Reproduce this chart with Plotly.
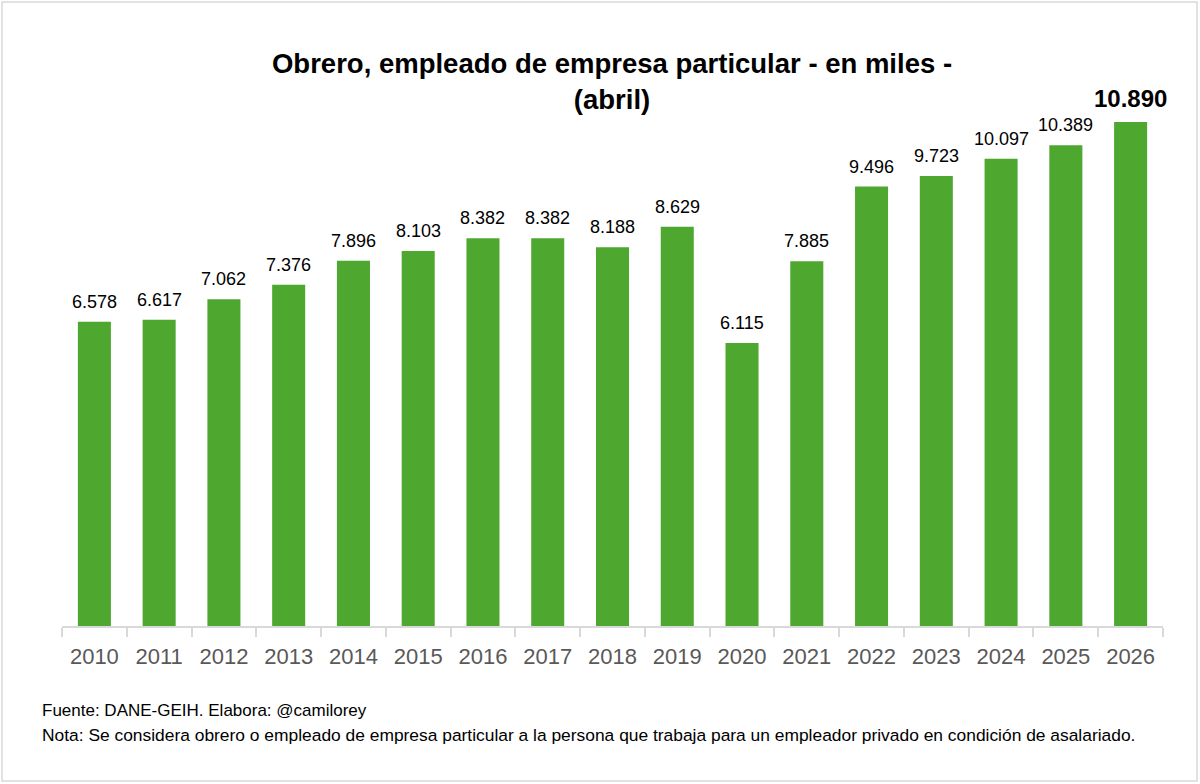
"""Obrero, empleado de empresa particular (abril), bar chart."""
import plotly.graph_objects as go

YEARS = [str(y) for y in range(2010, 2027)]
VALUES = [6578, 6617, 7062, 7376, 7896, 8103, 8382, 8382, 8188, 8629,
          6115, 7885, 9496, 9723, 10097, 10389, 10890]
TITLE = "Obrero, empleado de empresa particular - en miles -<br>(abril)"
SOURCE = "Fuente: DANE-GEIH. Elabora: @camilorey"
NOTE = ("Nota: Se considera obrero o empleado de empresa particular a la persona que "
        "trabaja para un empleador privado en condición de asalariado.")

GREEN = "#4EA72E"
FONT = "Liberation Sans, Arial, sans-serif"
PLOT_W, PLOT_H = 1101, 546   # plot area in px, used to place paper-relative items


def px_x(x):
    return (x - 62) / PLOT_W


def px_y(y):
    return (626 - y) / PLOT_H


fig = go.Figure(go.Bar(
    x=YEARS, y=VALUES,
    marker=dict(color=GREEN, line=dict(width=0)),
    hoverinfo="x+y",
))

# value labels above each bar (category index as x), last one highlighted
for i, v in enumerate(VALUES):
    last = i == len(VALUES) - 1
    txt = f"{v:,}".replace(",", ".")
    fig.add_annotation(
        x=i, y=v, text=f"<b>{txt}</b>" if last else txt,
        showarrow=False, yanchor="middle", yshift=24 if last else 20,
        font=dict(size=24 if last else 18, color="#000000", family=FONT),
    )

fig.update_layout(
    width=1200, height=784,
    margin=dict(l=62, r=37, t=80, b=158),
    paper_bgcolor="white", plot_bgcolor="white",
    bargap=0.49,
    showlegend=False,
    title=dict(text="<b>" + TITLE + "</b>", x=612 / 1200,
               xanchor="center", xref="container",
               y=1 - 73 / 784, yanchor="middle",
               font=dict(size=27.5, color="#000000", family=FONT)),
    xaxis=dict(type="category", range=[-0.5, len(YEARS) - 0.5],
               showline=True, linecolor="#D9D9D9", linewidth=1.5,
               ticks="outside", tickson="boundaries", ticklen=9,
               tickcolor="#D9D9D9", tickwidth=1.5, ticklabelstandoff=10,
               tickfont=dict(size=22, color="#595959", family=FONT)),
    yaxis=dict(range=[0, 11800], visible=False, showgrid=False),
    shapes=[dict(type="rect", xref="paper", yref="paper",
                 x0=px_x(2), x1=px_x(1197), y0=px_y(781), y1=px_y(2),
                 line=dict(color="#D9D9D9", width=1.5))],
)

fig.add_annotation(text=SOURCE, xref="paper", yref="paper",
                   x=px_x(40), y=px_y(710), xanchor="left", yanchor="middle",
                   showarrow=False, font=dict(size=17, color="#000000", family=FONT))
fig.add_annotation(text=NOTE, xref="paper", yref="paper",
                   x=px_x(40), y=px_y(735), xanchor="left", yanchor="middle",
                   showarrow=False, font=dict(size=17.4, color="#000000", family=FONT))

fig.write_html("out.html", config={"displayModeBar": False},
               post_script="document.body.style.margin='0';")
